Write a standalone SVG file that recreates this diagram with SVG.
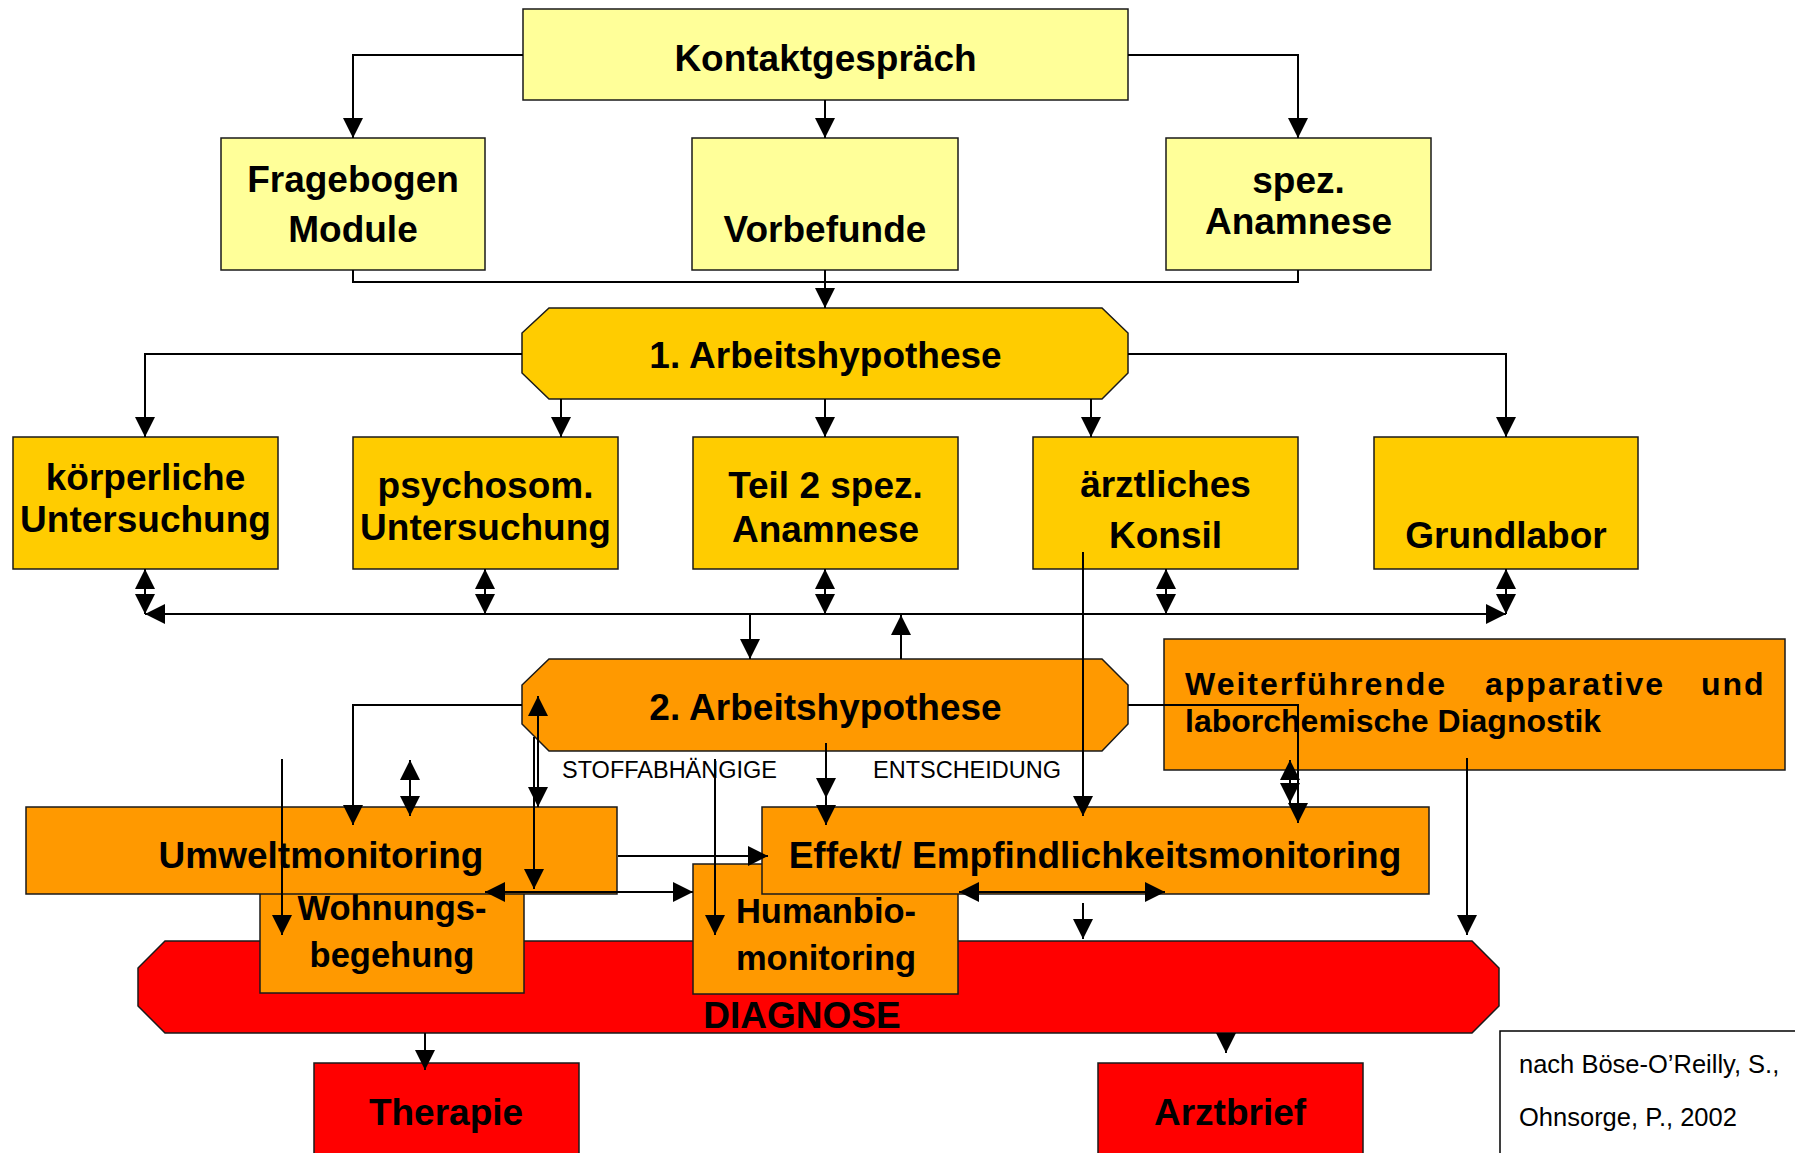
<svg xmlns="http://www.w3.org/2000/svg" width="1795" height="1153" viewBox="0 0 1795 1153">
<style>
.bx{stroke:#1a1a1a;stroke-width:1.5}
.y1{fill:#FFFF99}.y2{fill:#FFCC00}.o{fill:#FF9900}.r{fill:#FF0000}
.t{font-family:"Liberation Sans",Arial,sans-serif;font-weight:bold;font-size:37px;text-anchor:middle;fill:#000}
.tm{font-size:34.5px}
.w{font-family:"Liberation Sans",Arial,sans-serif;font-weight:bold;font-size:32px;fill:#000}
.s{font-family:"Liberation Sans",Arial,sans-serif;font-size:23.5px;fill:#000}
.ct{font-family:"Liberation Sans",Arial,sans-serif;font-size:25.5px;fill:#000}
.c{stroke:#000;stroke-width:2;fill:none}
.e{marker-end:url(#ah)}
.b{marker-start:url(#ah);marker-end:url(#ah)}
</style>
<defs>
<marker id="ah" viewBox="0 0 20 20" refX="20" refY="10" markerWidth="20" markerHeight="20" markerUnits="userSpaceOnUse" orient="auto-start-reverse"><path d="M0,0 L20,10 L0,20 z" fill="#000"/></marker>
</defs>
<rect width="1795" height="1153" fill="#fff"/>

<g id="diagnose"><polygon class="bx r" points="165,941 1472,941 1499,968 1499,1006 1472,1033 165,1033 138,1006 138,968"/><text class="t" x="802" y="1028">DIAGNOSE</text></g>
<g id="wohnung"><rect class="bx o" x="260" y="880" width="264" height="113"/><text class="t tm" x="392" y="920">Wohnungs-</text><text class="t tm" x="392" y="967">begehung</text></g>
<g id="humanbio"><rect class="bx o" x="693" y="864" width="265" height="130"/><text class="t tm" x="826" y="923">Humanbio-</text><text class="t tm" x="826" y="970">monitoring</text></g>
<g id="umwelt"><rect class="bx o" x="26" y="807" width="591" height="87"/><text class="t" x="321" y="868">Umweltmonitoring</text></g>
<g id="effekt"><rect class="bx o" x="762" y="807" width="667" height="87"/><text class="t" x="1095" y="868">Effekt/ Empfindlichkeitsmonitoring</text></g>

<g id="kontakt"><rect class="bx y1" x="523" y="9" width="605" height="91"/><text class="t" x="825.5" y="71">Kontaktgespräch</text></g>
<g id="fragebogen"><rect class="bx y1" x="221" y="138" width="264" height="132"/><text class="t" x="353" y="192">Fragebogen</text><text class="t" x="353" y="242">Module</text></g>
<g id="vorbefunde"><rect class="bx y1" x="692" y="138" width="266" height="132"/><text class="t" x="825" y="242">Vorbefunde</text></g>
<g id="spez"><rect class="bx y1" x="1166" y="138" width="265" height="132"/><text class="t" x="1298.5" y="193">spez.</text><text class="t" x="1298.5" y="234">Anamnese</text></g>

<g id="ah1"><polygon class="bx y2" points="549,308 1102,308 1128,333 1128,373 1102,399 549,399 522,373 522,333"/><text class="t" x="825.5" y="368">1. Arbeitshypothese</text></g>

<g id="koerper"><rect class="bx y2" x="13" y="437" width="265" height="132"/><text class="t" x="145.5" y="490">körperliche</text><text class="t" x="145.5" y="532">Untersuchung</text></g>
<g id="psycho"><rect class="bx y2" x="353" y="437" width="265" height="132"/><text class="t" x="485.5" y="498">psychosom.</text><text class="t" x="485.5" y="540">Untersuchung</text></g>
<g id="teil2"><rect class="bx y2" x="693" y="437" width="265" height="132"/><text class="t" x="825.5" y="498">Teil 2 spez.</text><text class="t" x="825.5" y="542">Anamnese</text></g>
<g id="konsil"><rect class="bx y2" x="1033" y="437" width="265" height="132"/><text class="t" x="1165.5" y="497">ärztliches</text><text class="t" x="1165.5" y="548">Konsil</text></g>
<g id="grundlabor"><rect class="bx y2" x="1374" y="437" width="264" height="132"/><text class="t" x="1506" y="548">Grundlabor</text></g>

<g id="ah2"><polygon class="bx o" points="549,659 1102,659 1128,685 1128,724 1102,751 549,751 522,724 522,685"/><text class="t" x="825.5" y="720">2. Arbeitshypothese</text></g>

<g id="weiter"><rect class="bx o" x="1164" y="639" width="621" height="131"/>
<text class="w" x="1185" y="695" letter-spacing="2">Weiterführende</text>
<text class="w" x="1485" y="695" letter-spacing="2">apparative</text>
<text class="w" x="1701" y="695" letter-spacing="2">und</text>
<text class="w" x="1185" y="732">laborchemische Diagnostik</text></g>

<g id="therapie"><rect class="bx r" x="314" y="1063" width="265" height="100"/><text class="t" x="446" y="1125">Therapie</text></g>
<g id="arztbrief"><rect class="bx r" x="1098" y="1063" width="265" height="100"/><text class="t" x="1230" y="1125">Arztbrief</text></g>

<g id="quelle"><rect x="1500" y="1031" width="310" height="140" fill="#fff" stroke="#000" stroke-width="1.5"/><text class="ct" x="1519" y="1073">nach Böse-O’Reilly, S.,</text><text class="ct" x="1519" y="1126">Ohnsorge, P., 2002</text></g>

<g id="labels"><text class="s" x="562" y="778">STOFFABHÄNGIGE</text><text class="s" x="873" y="778">ENTSCHEIDUNG</text></g>

<g id="connectors">
<path class="c e" d="M523,55 H353 V138"/>
<path class="c e" d="M825,100 V138"/>
<path class="c e" d="M1128,55 H1298 V138"/>
<path class="c" d="M353,270 V282 H1298 V270"/>
<path class="c e" d="M825,270 V308"/>

<path class="c e" d="M522,354 H145 V437"/>
<path class="c e" d="M1128,354 H1506 V437"/>
<path class="c e" d="M561,399 V437"/>
<path class="c e" d="M825,399 V437"/>
<path class="c e" d="M1091,399 V437"/>

<path class="c b" d="M145,569 V614"/>
<path class="c b" d="M485,569 V614"/>
<path class="c b" d="M825,569 V614"/>
<path class="c b" d="M1166,569 V614"/>
<path class="c b" d="M1506,569 V614"/>
<path class="c b" d="M145,614 H1506"/>
<path class="c e" d="M750,614 V659"/>
<path class="c e" d="M901,659 V615"/>

<path class="c e" d="M522,705 H353 V825"/>
<path class="c e" d="M1128,705 H1298 V823"/>
<path class="c b" d="M410,760 V816"/>
<path class="c b" d="M1290,760 V803"/>
<path class="c b" d="M538,696 V807"/>
<path class="c e" d="M534,737 V889"/>
<path class="c e" d="M282,759 V935"/>
<path class="c e" d="M715,759 V935"/>
<path class="c e" d="M826,743 V798"/>
<path class="c e" d="M826,798 V825"/>
<path class="c e" d="M1083,552 V816"/>
<path class="c e" d="M1467,758 V935"/>
<path class="c e" d="M618,856 H768"/>
<path class="c b" d="M485,892 H693"/>
<path class="c b" d="M959,892 H1165"/>
<path class="c e" d="M1083,903 V939"/>
<path class="c e" d="M425,1033 V1070"/>
<path class="c e" d="M1226,1033 V1053"/>
</g>
</svg>
